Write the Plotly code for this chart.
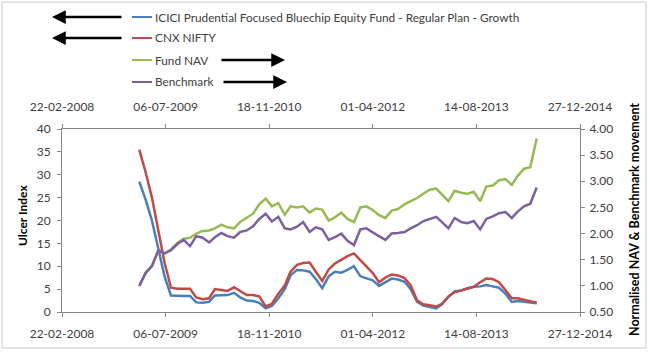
import plotly.graph_objects as go

# ---------------- data ----------------
DATES = [
    "2009-03-01", "2009-04-01", "2009-05-01", "2009-06-01", "2009-07-01", "2009-08-01",
    "2009-09-01", "2009-10-01", "2009-11-01", "2009-12-01",
    "2010-01-01", "2010-02-01", "2010-03-01", "2010-04-01", "2010-05-01", "2010-06-01",
    "2010-07-01", "2010-08-01", "2010-09-01", "2010-10-01", "2010-11-01", "2010-12-01",
    "2011-01-01", "2011-02-01", "2011-03-01", "2011-04-01", "2011-05-01", "2011-06-01",
    "2011-07-01", "2011-08-01", "2011-09-01", "2011-10-01", "2011-11-01", "2011-12-01",
    "2012-01-01", "2012-02-01", "2012-03-01", "2012-04-01", "2012-05-01", "2012-06-01",
    "2012-07-01", "2012-08-01", "2012-09-01", "2012-10-01", "2012-11-01", "2012-12-01",
    "2013-01-01", "2013-02-01", "2013-03-01", "2013-04-01", "2013-05-01", "2013-06-01",
    "2013-07-01", "2013-08-01", "2013-09-01", "2013-10-01", "2013-11-01", "2013-12-01",
    "2014-01-01", "2014-02-01", "2014-03-01", "2014-04-01", "2014-05-01", "2014-05-15",
    "2014-06-01",
]

SERIES_NAMES = [
    "ICICI Prudential Focused Bluechip Equity Fund - Regular Plan - Growth",
    "CNX NIFTY",
    "Fund NAV",
    "Benchmark",
]

# Ulcer index (left axis)
FUND_ULCER = [
    28.5, 24.5, 20.0, 13.8, 7.8, 3.6, 3.5, 3.5, 3.5, 2.1,
    2.0, 2.2, 3.6, 3.7, 3.7, 4.2, 3.2, 2.5, 2.4, 2.0, 0.8, 1.3,
    3.0, 5.0, 8.0, 9.2, 9.1, 8.8, 7.2, 5.2, 7.8, 8.8, 8.6, 9.2,
    10.0, 7.8, 7.3, 6.9, 5.7, 6.5, 7.3, 7.1, 6.6, 5.0, 2.2, 1.4,
    1.1, 0.8, 1.7, 3.3, 4.5, 4.7, 5.2, 5.5, 5.6, 5.9, 5.6, 5.3,
    4.0, 2.2, 2.4, 2.2, 2.0, 2.0, 1.9,
]
NIFTY_ULCER = [
    35.5, 30.5, 25.0, 17.5, 10.8, 5.3, 5.1, 5.1, 5.1, 3.2,
    2.8, 3.0, 5.0, 4.8, 4.6, 5.4, 4.6, 3.7, 3.7, 3.4, 1.2, 1.8,
    4.0, 5.8, 8.8, 10.3, 10.7, 10.8, 8.8, 6.8, 9.3, 10.6, 11.4, 12.2,
    12.8, 11.3, 9.8, 8.5, 6.5, 7.5, 8.2, 8.0, 7.4, 5.8, 2.5, 1.7,
    1.5, 1.2, 1.8, 3.4, 4.3, 4.7, 5.2, 5.5, 6.5, 7.3, 7.2, 6.5,
    4.8, 3.0, 3.0, 2.6, 2.3, 2.2, 2.1,
]
# Normalised movement (right axis)
FUND_NAV = [
    1.00, 1.25, 1.38, 1.68, 1.62, 1.70, 1.82, 1.90, 1.92, 2.00,
    2.05, 2.06, 2.10, 2.17, 2.12, 2.10, 2.22, 2.30, 2.38, 2.56, 2.67, 2.52,
    2.58, 2.36, 2.52, 2.50, 2.52, 2.40, 2.48, 2.46, 2.25, 2.31, 2.40, 2.28,
    2.22, 2.50, 2.52, 2.45, 2.35, 2.30, 2.44, 2.47, 2.56, 2.62, 2.68, 2.76,
    2.84, 2.86, 2.74, 2.62, 2.82, 2.78, 2.76, 2.80, 2.62, 2.90, 2.92, 3.02,
    3.04, 2.93, 3.10, 3.24, 3.27, 3.50, 3.82,
]
BENCHMARK = [
    1.00, 1.25, 1.38, 1.68, 1.62, 1.68, 1.80, 1.88, 1.76, 1.95,
    1.92, 1.83, 1.93, 2.01, 1.95, 1.92, 2.03, 2.06, 2.14, 2.28, 2.38, 2.23,
    2.32, 2.10, 2.08, 2.13, 2.22, 2.03, 2.12, 2.08, 1.88, 1.93, 2.00, 1.86,
    1.78, 2.08, 2.10, 2.02, 1.95, 1.88, 2.00, 2.01, 2.03, 2.10, 2.16, 2.24,
    2.28, 2.32, 2.22, 2.10, 2.30, 2.22, 2.20, 2.24, 2.08, 2.28, 2.33, 2.39,
    2.41, 2.30, 2.42, 2.52, 2.57, 2.70, 2.88,
]

X_TICKS = ["2008-02-22", "2009-07-06", "2010-11-18", "2012-04-01", "2013-08-14", "2014-12-27"]
X_TICK_LABELS = ["22-02-2008", "06-07-2009", "18-11-2010", "01-04-2012", "14-08-2013", "27-12-2014"]
Y_LEFT_TICKS = [0, 5, 10, 15, 20, 25, 30, 35, 40]
Y_RIGHT_TICKS = [0.5, 1.0, 1.5, 2.0, 2.5, 3.0, 3.5, 4.0]

COLORS = ["#4A7EBB", "#BE4B48", "#98B954", "#7D60A0"]

# ---------------- figure ----------------
W, H = 650, 352
L, R, T, B = 62, 70, 129, 40
PW, PH = W - L - R, H - T - B
FONT = "Lato"
AXIS_COLOR = "#868686"
TEXT_COLOR = "#404040"


def px_x(px):
    return (px - L) / PW


def px_y(py):
    return (H - B - py) / PH


fig = go.Figure()
fig.add_trace(go.Scatter(x=DATES, y=FUND_ULCER, name=SERIES_NAMES[0], mode="lines",
                         line=dict(color=COLORS[0], width=2.5), xaxis="x", yaxis="y"))
fig.add_trace(go.Scatter(x=DATES, y=NIFTY_ULCER, name=SERIES_NAMES[1], mode="lines",
                         line=dict(color=COLORS[1], width=2.5), xaxis="x", yaxis="y"))
fig.add_trace(go.Scatter(x=DATES, y=FUND_NAV, name=SERIES_NAMES[2], mode="lines",
                         line=dict(color=COLORS[2], width=2.5), xaxis="x2", yaxis="y2"))
fig.add_trace(go.Scatter(x=DATES, y=BENCHMARK, name=SERIES_NAMES[3], mode="lines",
                         line=dict(color=COLORS[3], width=2.5), xaxis="x2", yaxis="y2"))

common_axis = dict(
    showgrid=False, zeroline=False, showline=True, linecolor=AXIS_COLOR, linewidth=1,
    ticks="outside", ticklen=4, tickcolor=AXIS_COLOR, tickwidth=1,
    tickfont=dict(family=FONT, size=12, color=TEXT_COLOR),
)

fig.update_layout(
    width=W, height=H,
    margin=dict(l=L, r=R, t=T, b=B, pad=0),
    paper_bgcolor="white", plot_bgcolor="white",
    showlegend=False,
    font=dict(family=FONT, size=12, color=TEXT_COLOR),
    xaxis=dict(type="date", range=[X_TICKS[0], X_TICKS[-1]], tickmode="array",
               tickvals=X_TICKS, ticktext=X_TICK_LABELS, ticklabelstandoff=7,
               **common_axis),
    xaxis2=dict(type="date", range=[X_TICKS[0], X_TICKS[-1]], tickmode="array",
                tickvals=X_TICKS, ticktext=X_TICK_LABELS, overlaying="x", side="top",
                anchor="y", ticklabelstandoff=8, **common_axis),
    yaxis=dict(range=[0, 40], tickmode="array", tickvals=Y_LEFT_TICKS,
               ticklabelstandoff=4, **common_axis),
    yaxis2=dict(range=[0.5, 4.0], tickmode="array", tickvals=Y_RIGHT_TICKS,
                tickformat=".2f", overlaying="y", side="right", anchor="x",
                ticklabelstandoff=2, **common_axis),
)

# axis titles
fig.add_annotation(text="<b>Ulcer Index</b>", xref="paper", yref="paper",
                   x=px_x(22), y=px_y(216), textangle=-90, showarrow=False,
                   xanchor="center", yanchor="middle",
                   font=dict(family=FONT, size=12, color="#000000"))
fig.add_annotation(text="<b>Normalised NAV &amp; Benchmark movement</b>", xref="paper", yref="paper",
                   x=px_x(634), y=px_y(220), textangle=-90, showarrow=False,
                   xanchor="center", yanchor="middle",
                   font=dict(family=FONT, size=12.5, color="#000000"))

# manual legend
ROW_Y = [17, 38, 60, 82]
for name, color, ry in zip(SERIES_NAMES, COLORS, ROW_Y):
    fig.add_shape(type="line", xref="paper", yref="paper",
                  x0=px_x(132), x1=px_x(152), y0=px_y(ry), y1=px_y(ry),
                  line=dict(color=color, width=2))
    fig.add_annotation(text=name, xref="paper", yref="paper", x=px_x(153), y=px_y(ry),
                       xanchor="left", yanchor="middle", showarrow=False,
                       font=dict(family=FONT, size=11.8, color=TEXT_COLOR))

# arrows pointing to the axis each series uses
ARROWS = [(52, 123, 17), (52, 123, 38), (285, 220, 60), (287, 222, 82)]
for head, tail, ry in ARROWS:
    fig.add_annotation(text="", xref="paper", yref="paper", x=px_x(head), y=px_y(ry),
                       ax=tail - head, ay=0, showarrow=True, arrowhead=2,
                       arrowsize=1.1, arrowwidth=2.5, arrowcolor="#000000", standoff=0)

# outer chart frame
fig.add_shape(type="rect", xref="paper", yref="paper",
              x0=px_x(2), x1=px_x(646), y0=px_y(348), y1=px_y(2),
              line=dict(color="#C8C8C8", width=1), fillcolor="rgba(0,0,0,0)", layer="below")

fig.write_html("out.html")
